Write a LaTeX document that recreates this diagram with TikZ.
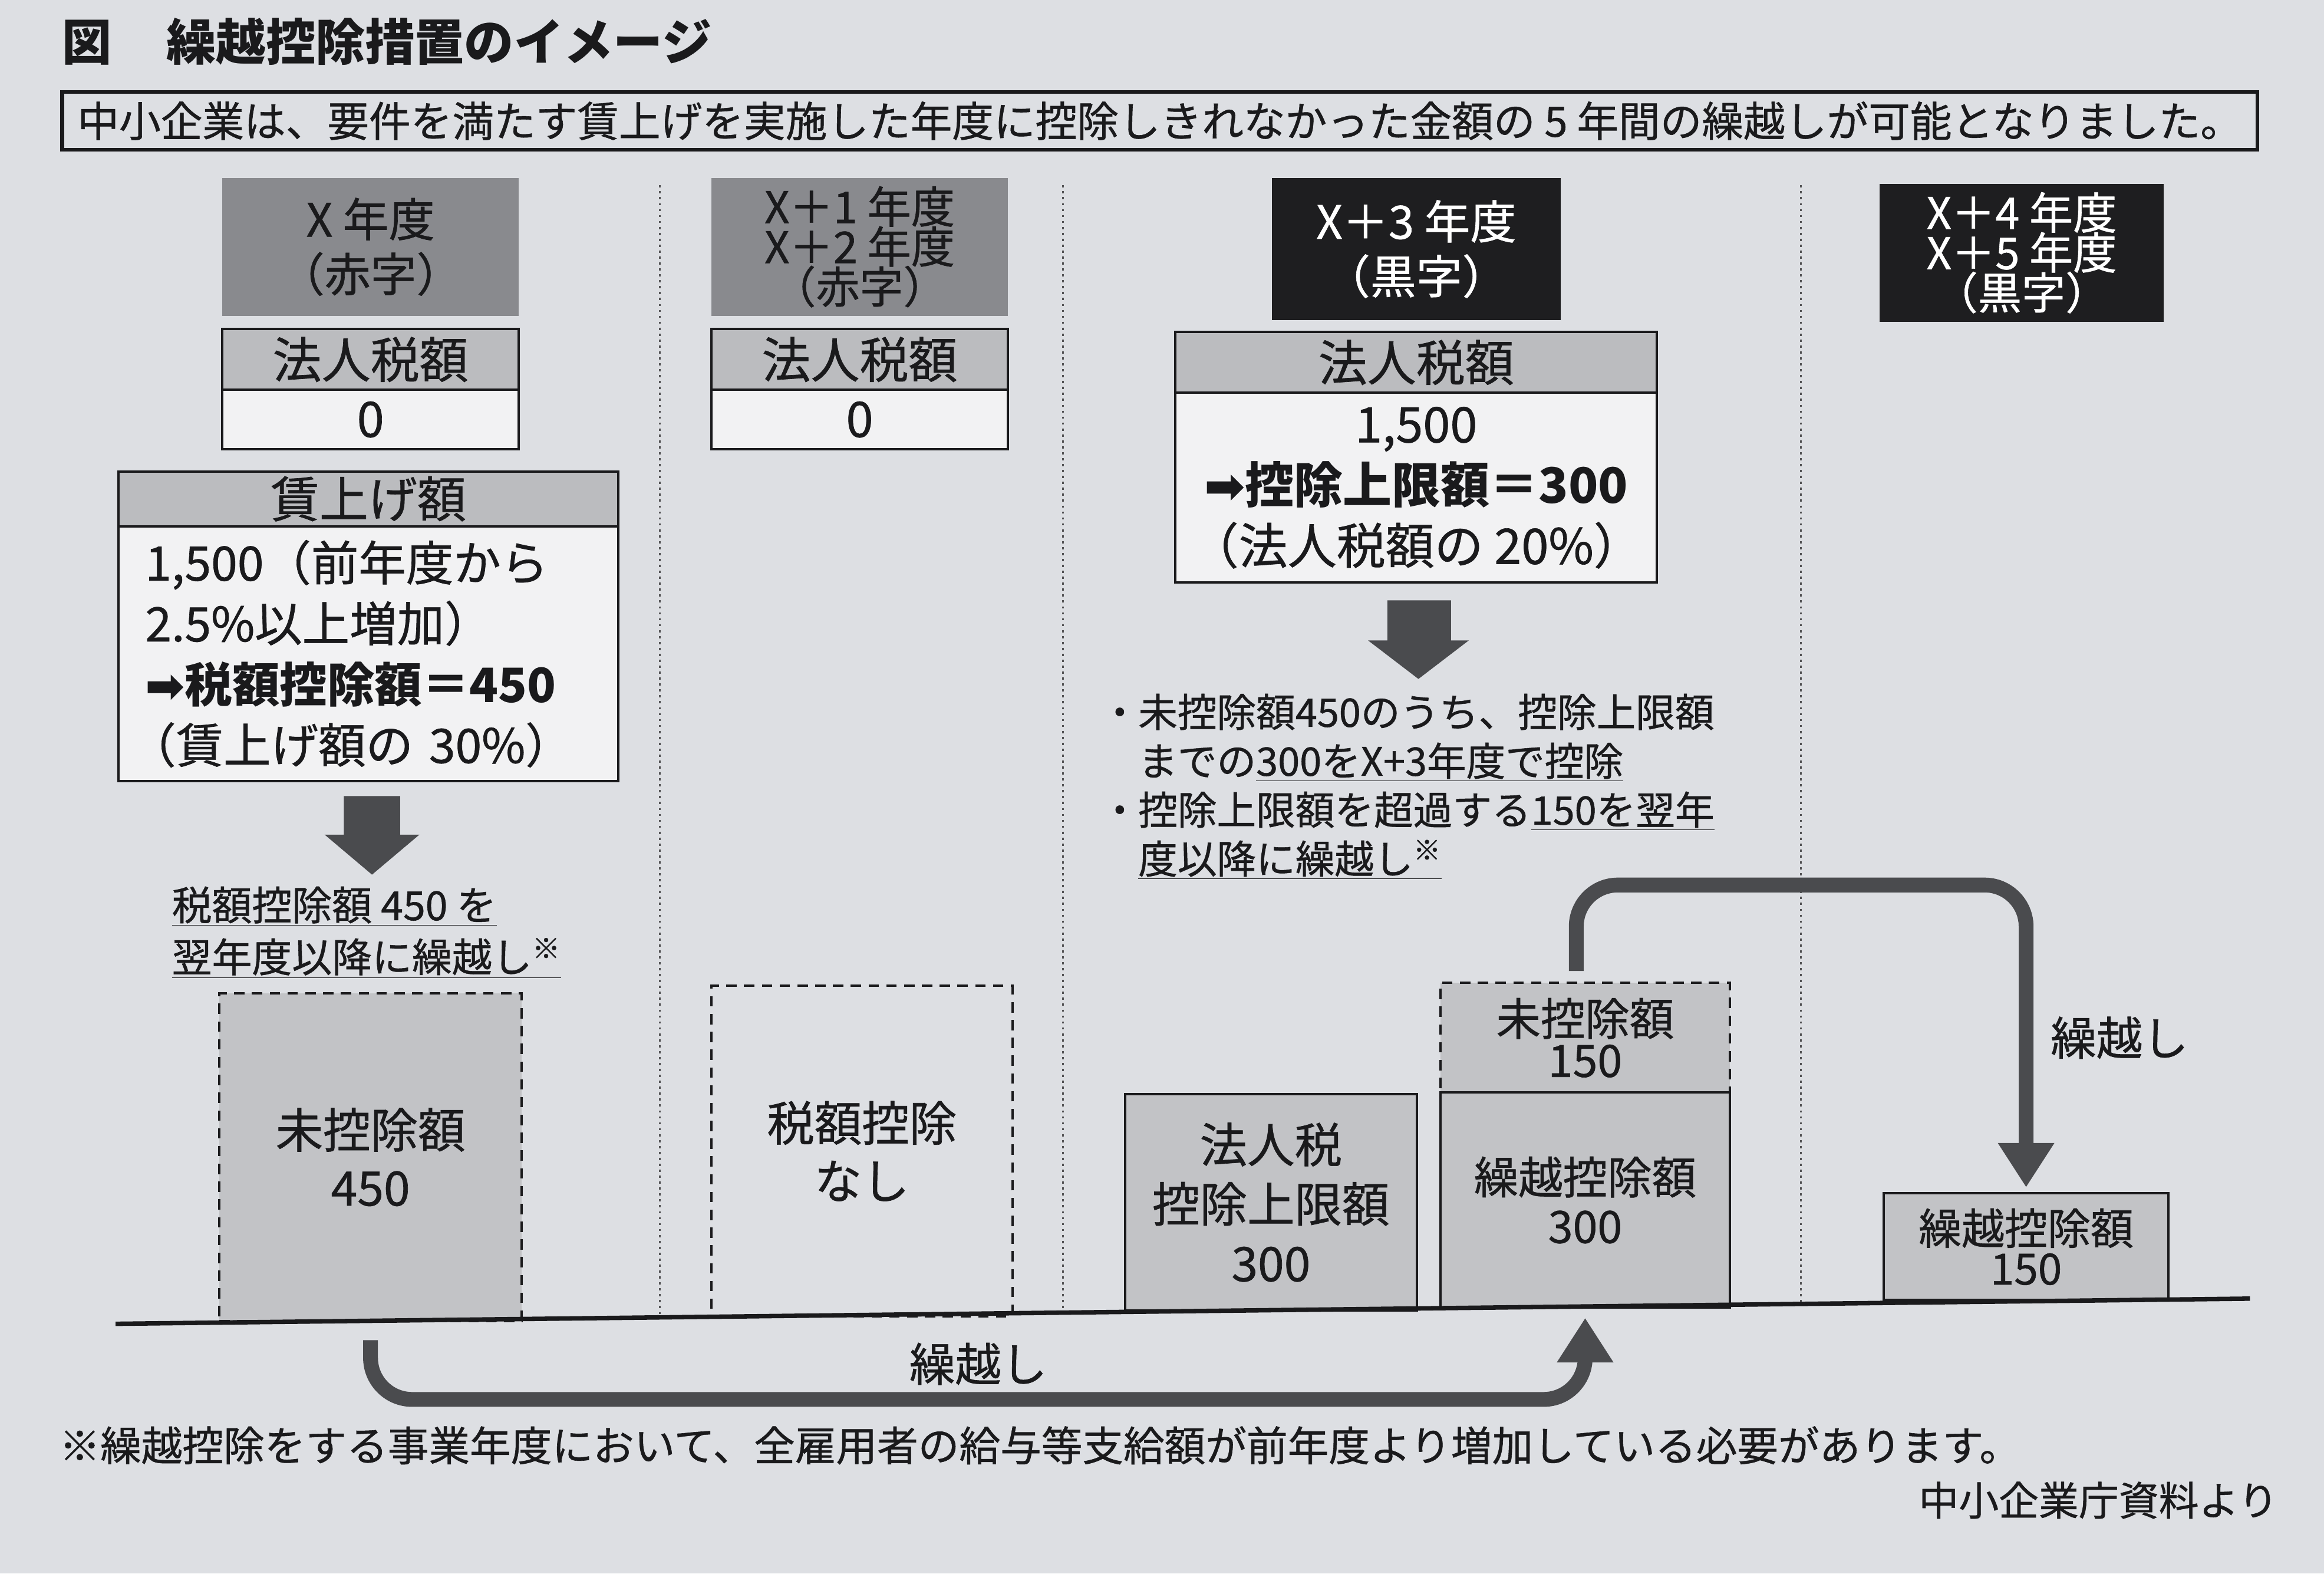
\documentclass[tikz,border=0pt]{standalone}
\usepackage{fontspec}
\setmainfont{Noto Sans CJK JP}[UprightFeatures={FakeBold=0.8}]
\newfontfamily\symfont{DejaVu Sans}
\usetikzlibrary{arrows.meta,calc}
\definecolor{bg}{HTML}{DDDFE3}
\definecolor{ink}{HTML}{1A1A1C}
\definecolor{hdrgray}{HTML}{898A8E}
\definecolor{hdrblack}{HTML}{1E1E20}
\definecolor{headfill}{HTML}{BBBCBF}
\definecolor{cellfill}{HTML}{F2F2F3}
\definecolor{barfill}{HTML}{C2C3C6}
\definecolor{arrowgray}{HTML}{4A4B4E}
\newcommand\fs[2]{\fontsize{#1}{#2}\selectfont\lineskiplimit=-60pt\relax}
\tikzset{
  txtbase/.style={inner sep=0pt, outer sep=0pt, align=center, text=ink},
  grayhdr/.style={txtbase, fill=hdrgray, minimum width=200pt, minimum height=93pt, font=\fs{31}{37}},
  blackhdr/.style={txtbase, fill=hdrblack, text=white, font=\fs{31}{37}},
  tabhead/.style={txtbase, draw=ink, line width=1.6pt, fill=headfill, font=\fs{33}{36}},
  tabbody/.style={txtbase, draw=ink, line width=1.6pt, fill=cellfill, font=\fs{33}{41}},
  barbox/.style={txtbase, draw=ink, line width=1.6pt, fill=barfill, font=\fs{32}{40}},
  dashbox/.style={txtbase, draw=ink, line width=1.6pt, dash pattern=on 7pt off 5pt, font=\fs{32}{39}},
  divider/.style={draw=ink!75, line width=1.2pt, dash pattern=on 1.5pt off 2.5pt},
  carry/.style={draw=arrowgray, line width=10pt, rounded corners=28pt, -{Triangle[width=36pt,length=30pt]}},
  blockarrow/.style={fill=arrowgray},
  note/.style={txtbase, align=left, font=\fs{27}{35}},
}
\begin{document}
\begin{tikzpicture}[x=1pt,y=-1pt]
\fill[bg] (0,0) rectangle (1568,1061.4);
\useasboundingbox (0,0) rectangle (1568,1061.4);

% title and banner
\node[txtbase, anchor=west, font=\fs{33.5}{36}\bfseries] (title) at (42,28) {図\hspace{1.1em}繰越控除措置のイメージ};
\node[txtbase, draw=ink, line width=2.6pt, minimum width=1481pt, minimum height=39pt, font=\fs{28.1}{30}] (banner) at (782.5,81.5)
  {中小企業は、要件を満たす賃上げを実施した年度に控除しきれなかった金額の 5 年間の繰越しが可能となりました。};

% dividers
\draw[divider] (445,125) -- (445,889);
\draw[divider] (717,125) -- (717,886);
\draw[divider] (1215,125) -- (1215,878);

% column 1
\node[grayhdr] (h1) at (250,166.5) {X 年度\\（赤字）};
\node[tabhead, minimum width=200pt, minimum height=41pt] (t1h) at (250,242.5) {法人税額};
\node[tabbody, minimum width=200pt, minimum height=40pt] (t1v) at (250,283) {0};
\node[tabhead, minimum width=337pt, minimum height=37pt] (w1h) at (248.5,336.5) {賃上げ額};
\node[tabbody, text width=301pt, inner xsep=18pt, align=left, minimum height=172pt, font=\fs{32}{41}] (w1b) at (248.5,441)
  {1,500（前年度から\\2.5\%以上増加）\\{\bfseries{\symfont\bfseries ➡}税額控除額＝450}\\\hspace*{-0.35em}（賃上げ額の 30\%）};
\fill[blockarrow] (232,537) -- (270,537) -- (270,563) -- (283,563) -- (251,590) -- (219,563) -- (232,563) -- cycle;
\node[note, anchor=north west] (n1) at (116,598)
  {\underline{税額控除額 450 を}\\\underline{翌年度以降に繰越し\textsuperscript{※}}};
\node[dashbox, fill=barfill, minimum width=204pt, minimum height=221pt] (d1) at (250,780.5) {未控除額\\450};

% column 2
\node[grayhdr, font=\fs{29.5}{27}] (h2) at (580,166.5) {X＋1 年度\\X＋2 年度\\（赤字）};
\node[tabhead, minimum width=200pt, minimum height=41pt] (t2h) at (580,242.5) {法人税額};
\node[tabbody, minimum width=200pt, minimum height=40pt] (t2v) at (580,283) {0};
\node[dashbox, minimum width=203pt, minimum height=223pt] (d2) at (581.5,776.5) {税額控除\\なし};

% column 3
\node[blackhdr, minimum width=195pt, minimum height=96pt] (h3) at (955.5,168) {X＋3 年度\\（黒字）};
\node[tabhead, minimum width=325pt, minimum height=41pt] (t3h) at (955.5,244.5) {法人税額};
\node[tabbody, minimum width=325pt, minimum height=128pt] (t3b) at (955.5,329)
  {1,500\\{\bfseries{\symfont\bfseries ➡}控除上限額＝300}\\（法人税額の 20\%）};
\fill[blockarrow] (936,405) -- (979,405) -- (979,432) -- (991,432) -- (957,458) -- (923,432) -- (936,432) -- cycle;
\node[note, anchor=north west, font=\fs{26.5}{33}] (n3) at (743,468)
  {\makebox[25pt][c]{・}未控除額450のうち、控除上限額\\
   \hspace*{25pt}までの\underline{300をX+3年度で控除}\\
   \makebox[25pt][c]{・}控除上限額を超過する\underline{150を翌年}\\
   \hspace*{25pt}\underline{度以降に繰越し\textsuperscript{※}}};
\node[barbox, minimum width=197pt, minimum height=146pt] (b3) at (857.5,811) {法人税\\控除上限額\\300};
\node[dashbox, fill=barfill, minimum width=195pt, minimum height=74pt, font=\fs{30}{28}] (s3t) at (1069.5,700) {未控除額\\150};
\node[barbox, minimum width=195pt, minimum height=145pt, font=\fs{30}{33}] (s3b) at (1069.5,809.5) {繰越控除額\\300};

% column 4
\node[blackhdr, minimum width=192pt, minimum height=93pt, font=\fs{29.5}{27}] (h4) at (1364,170.5) {X＋4 年度\\X＋5 年度\\（黒字）};
\node[barbox, minimum width=192pt, minimum height=72pt, font=\fs{29}{27}] (b4) at (1367,841) {繰越控除額\\150};

% ground line
\draw[ink, line width=3pt] (78,893) -- (1518,876);

% carry-forward arrows
\draw[carry] ($(d1.south)+(0,13)$) |- ($(s3b.south)+(0,62)$) -- ($(s3b.south)+(0,7)$);
\node[txtbase, font=\fs{31}{31}] (l1) at (660,920) {繰越し};
\draw[carry] ($(s3t.north)+(-6,-8)$) |- ($(b4.north)+(0,-208)$) -- ($(b4.north)+(0,-4)$);
\node[txtbase, font=\fs{31}{31}] (l2) at (1430,700) {繰越し};

% footnotes
\node[txtbase, anchor=west, font=\fs{27.7}{30}] (fn) at (40,975) {※繰越控除をする事業年度において、全雇用者の給与等支給額が前年度より増加している必要があります。};
\node[txtbase, anchor=east, font=\fs{27}{30}] (src) at (1537,1012) {中小企業庁資料より};
\end{tikzpicture}
\end{document}
